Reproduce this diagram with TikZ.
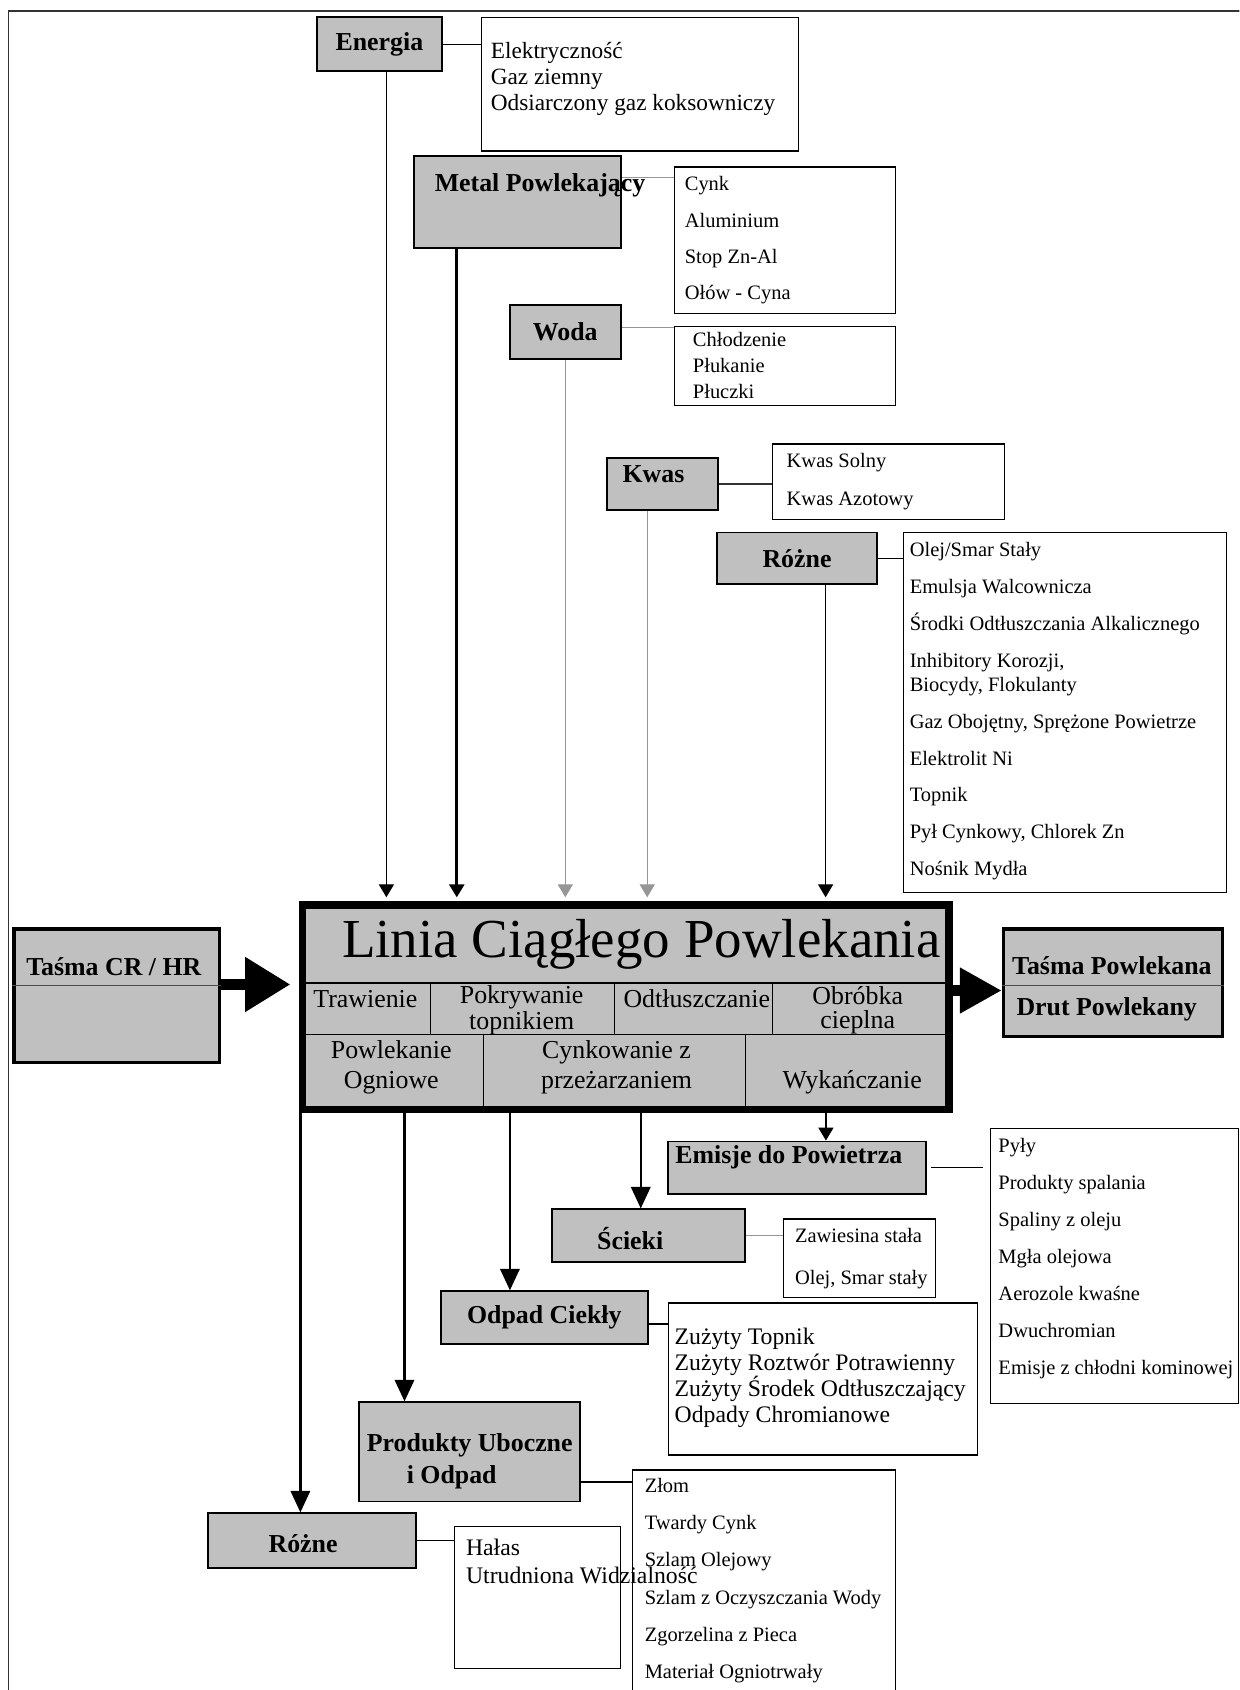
\documentclass[tikz,border=0pt]{standalone}
\usepackage{fontspec}
\setmainfont{Liberation Serif}
\usetikzlibrary{arrows.meta}
\definecolor{boxgrey}{RGB}{192,192,192}
\definecolor{linegrey}{RGB}{150,150,150}

\begin{document}
\begin{tikzpicture}[x=0.5pt, y=-0.5pt,
  greybox/.style={draw, fill=boxgrey, line width=0.8pt, inner sep=0pt, font=\bfseries\fontsize{12}{14}\selectfont},
  infobox/.style={draw, line width=0.6pt, inner sep=0pt},
  boxtext/.style={inner sep=0pt, font=\bfseries\fontsize{12}{14}\selectfont},
  listtext/.style={inner sep=0pt, anchor=west, align=left},
  celltext/.style={inner sep=0pt, align=center},
  tie/.style={line width=0.6pt},
  feedarrow/.style={-{Triangle[width=7pt,length=6pt]}, line width=0.6pt},
  outarrow/.style={-{Triangle[width=9pt,length=10pt]}, line width=1.1pt},
  bigarrow/.style={-{Triangle[width=24pt,length=21pt]}, line width=5.5pt},
]
\useasboundingbox (0,0) rectangle (1150,1568);
\clip (0,0) rectangle (1150,1568);

% frame of the page
\draw[line width=0.7pt, black!80] (8,1600) -- (8,10) -- (1200,10);

% inputs
\node[greybox, minimum width=58pt, minimum height=25pt] (energia) at (352,41) {Energia};
\node[infobox, minimum width=147pt, minimum height=62pt] (energiainfo) at (594,78) {};
\node[listtext, font=\fontsize{10.8}{12}\selectfont] (energialist) at (455,73.5) {Elektryczność\\Gaz ziemny\\Odsiarczony gaz koksowniczy};

\node[greybox, minimum width=96pt, minimum height=42.5pt] (metal) at (480,187.5) {};
\node[boxtext, anchor=west] (metaltext) at (403,172) {Metal Powlekający};
\node[infobox, minimum width=102.5pt, minimum height=68pt] (metalinfo) at (728.5,223) {};
\node[listtext, font=\fontsize{9.5}{16.9}\selectfont] (metallist) at (635,223) {Cynk\\Aluminium\\Stop Zn-Al\\Ołów - Cyna};

\node[greybox, minimum width=51.5pt, minimum height=25pt] (woda) at (524.5,308) {Woda};
\node[infobox, minimum width=102.5pt, minimum height=36.5pt] (wodainfo) at (728.5,339.5) {};
\node[listtext, font=\fontsize{9.5}{12.2}\selectfont] (wodalist) at (642.5,339) {Chłodzenie\\Płukanie\\Płuczki};

\node[greybox, minimum width=51.5pt, minimum height=24pt] (kwas) at (614.5,449) {};
\node[boxtext] (kwastext) at (606.3,440.3) {Kwas};
\node[infobox, minimum width=107.5pt, minimum height=35pt] (kwasinfo) at (824.5,447) {};
\node[listtext, font=\fontsize{9.5}{17.5}\selectfont] (kwaslist) at (729.5,446.6) {Kwas Solny\\Kwas Azotowy};

\node[greybox, minimum width=74.5pt, minimum height=24pt] (rozne) at (739.5,518) {Różne};
\node[infobox, minimum width=150pt, minimum height=167pt] (rozneinfo) at (988,661) {};
\node[listtext, font=\fontsize{9.5}{11.3}\selectfont] (roznelist) at (843.7,659.8) {Olej/Smar Stały\\[5.8pt]Emulsja Walcownicza\\[5.8pt]Środki Odtłuszczania Alkalicznego\\[5.8pt]Inhibitory Korozji,\\Biocydy, Flokulanty\\[5.8pt]Gaz Obojętny, Sprężone Powietrze\\[5.8pt]Elektrolit Ni\\[5.8pt]Topnik\\[5.8pt]Pył Cynkowy, Chlorek Zn\\[5.8pt]Nośnik Mydła};

% the line
\node[draw, fill=boxgrey, line width=3.5pt, minimum width=300pt, minimum height=95pt, inner sep=0pt] (linia) at (580.5,934.5) {};
\node[inner sep=0pt, font=\fontsize{25.5}{28}\selectfont] (liniatext) at (595,876) {Linia Ciągłego Powlekania};
\draw[line width=0.5pt] (280.5,912) -- (880.5,912) (280.5,960) -- (880.5,960)
  (399.7,912) -- (399.7,960) (569.9,912) -- (569.9,960) (716.5,912) -- (716.5,960)
  (448.9,960) -- (448.9,1029.5) (691.6,960) -- (691.6,1029.5);
\node[celltext, font=\fontsize{12}{10.9}\selectfont] (trawienie) at (339,926.6) {Trawienie};
\node[celltext, font=\fontsize{12}{10.9}\selectfont] (pokrywanie) at (484,937.5) {Pokrywanie\\topnikiem};
\node[celltext, font=\fontsize{12}{10.9}\selectfont] (odtluszczanie) at (646.5,926.6) {Odtłuszczanie};
\node[celltext, font=\fontsize{12}{10.9}\selectfont] (obrobka) at (795.8,937.5) {Obróbka\\cieplna};
\node[celltext, font=\fontsize{12}{14}\selectfont] (powlekanie) at (363,990) {Powlekanie\\Ogniowe};
\node[celltext, font=\fontsize{12}{14}\selectfont] (cynkowanie) at (572,990) {Cynkowanie z\\przeżarzaniem};
\node[celltext, font=\fontsize{12}{14}\selectfont] (wykanczanie) at (790.6,1004) {Wykańczanie};

% strip in and out
\node[draw, fill=boxgrey, line width=1.5pt, minimum width=95.5pt, minimum height=62pt] (tasmacr) at (108.5,924) {};
\node[boxtext] (tasmacrtext) at (105.6,896.6) {Taśma CR / HR};
\draw[line width=0.6pt, black!70] ([yshift=4.9pt]tasmacr.west) -- ([yshift=4.9pt]tasmacr.east);

\node[draw, fill=boxgrey, line width=1.5pt, minimum width=101.5pt, minimum height=50pt] (tasmapow) at (1032.5,912) {};
\draw[line width=0.6pt, black!70] ([yshift=-1.1pt]tasmapow.west) -- ([yshift=-1.1pt]tasmapow.east);
\node[boxtext] (tasmapowtext) at (1031.6,895.7) {Taśma Powlekana};
\node[boxtext] (druttext) at (1026.8,936) {Drut Powlekany};

% outputs
\node[greybox, minimum width=119.5pt, minimum height=24.5pt] (emisje) at (739.5,1083.5) {};
\node[boxtext] (emisjetext) at (731.9,1073.6) {Emisje do Powietrza};
\node[infobox, minimum width=115pt, minimum height=127.5pt] (emisjeinfo) at (1034,1174.5) {};
\node[listtext, font=\fontsize{9.5}{17.2}\selectfont] (emisjelist) at (926,1167.6) {Pyły\\Produkty spalania\\Spaliny z oleju\\Mgła olejowa\\Aerozole kwaśne\\Dwuchromian\\Emisje z chłodni kominowej};

\node[greybox, minimum width=89.5pt, minimum height=24.5pt] (scieki) at (601.5,1146.5) {};
\node[boxtext] (sciekitext) at (584.7,1149.4) {Ścieki};
\node[infobox, minimum width=70.5pt, minimum height=36.5pt] (sciekiinfo) at (797.5,1167.5) {};
\node[listtext, font=\fontsize{9.5}{19.8}\selectfont] (sciekilist) at (737.3,1167.6) {Zawiesina stała\\Olej, Smar stały};

\node[greybox, minimum width=96pt, minimum height=24.5pt] (odpad) at (505,1222.5) {Odpad Ciekły};
\node[infobox, minimum width=143.5pt, minimum height=70.5pt] (odpadinfo) at (763.5,1279.5) {};
\node[listtext, font=\fontsize{11}{12.1}\selectfont] (odpadlist) at (625.6,1278.5) {Zużyty Topnik\\Zużyty Roztwór Potrawienny\\Zużyty Środek Odtłuszczający\\Odpady Chromianowe};

\node[greybox, minimum width=102.5pt, minimum height=46pt] (produkty) at (435.5,1347) {};
\node[boxtext, align=left, anchor=west, font=\bfseries\fontsize{12}{15}\selectfont] (produktytext) at (340,1356) {Produkty Uboczne\\\hspace*{18.5pt}i Odpad};
\node[infobox, minimum width=122pt, minimum height=118pt] (produktyinfo) at (709,1482) {};
\node[listtext, font=\fontsize{9.5}{17.2}\selectfont] (produktylist) at (597.8,1466.5) {Złom\\Twardy Cynk\\Szlam Olejowy\\Szlam z Oczyszczania Wody\\Zgorzelina z Pieca\\Materiał Ogniotrwały};

\node[greybox, minimum width=96.5pt, minimum height=25.5pt] (rozne2) at (289.5,1429.5) {};
\node[boxtext] (rozne2text) at (281.2,1432.5) {Różne};
\node[infobox, minimum width=77pt, minimum height=66pt] (rozne2info) at (499,1482) {};
\node[listtext, font=\fontsize{11}{13}\selectfont] (rozne2list) at (432,1449) {Hałas\\Utrudniona Widzialność};

% ties to the lists
\draw[tie] (energia.east) -- (energia.east -| energiainfo.west);
\draw[tie, linegrey] ([yshift=-5pt]metalinfo.north west) -- ([yshift=-5pt]metalinfo.north west -| metal.east);
\draw[tie, linegrey] ([yshift=-0.75pt]wodainfo.north west) -- ([yshift=-0.75pt]wodainfo.north west -| woda.east);
\draw[tie, black!80] (kwas.east) -- (kwas.east -| kwasinfo.west);
\draw[tie] (rozne.east) -- (rozne.east -| rozneinfo.west);
\draw[tie, shorten <=2pt, shorten >=3pt] (emisje.east) -- (emisje.east -| emisjeinfo.west);
\draw[tie, linegrey] (scieki.east) -- (scieki.east -| sciekiinfo.west);
\draw[tie] ([yshift=-3pt]odpad.east) -- ([yshift=-3pt]odpad.east -| odpadinfo.west);
\draw[tie] ([yshift=-5.75pt]produktyinfo.north west) -- ([yshift=-5.75pt]produktyinfo.north west -| produkty.east);
\draw[tie] (rozne2.east) -- (rozne2.east -| rozne2info.west);

% feeds into the line
\draw[feedarrow, shorten >=1.75pt] ([xshift=3.25pt]energia.south) -- ([xshift=3.25pt]energia.south |- linia.north);
\draw[feedarrow, line width=1.2pt, shorten >=1.75pt] ([xshift=20.3pt]metal.south west) -- ([xshift=20.3pt]metal.south west |- linia.north);
\draw[feedarrow, linegrey, shorten >=1.75pt] (woda.south) -- (woda.south |- linia.north);
\draw[feedarrow, linegrey, shorten >=1.75pt] ([xshift=-7pt]kwas.south) -- ([xshift=-7pt]kwas.south |- linia.north);
\draw[feedarrow, shorten >=1.75pt] ([xshift=13.25pt]rozne.south) -- ([xshift=13.25pt]rozne.south |- linia.north);
\draw[bigarrow, shorten >=3.75pt] ([yshift=5.3pt]tasmacr.east) -- ([yshift=5.3pt]tasmacr.east -| linia.west);
\draw[bigarrow, -{Triangle[width=20pt,length=19.5pt]}] ([yshift=-3.5pt]tasmapow.west -| linia.east) -- ([yshift=-3.5pt]tasmapow.west);

% outflows from the line
\draw[outarrow] ([xshift=-5.4pt]rozne2.north |- linia.south) -- ([xshift=-5.4pt]rozne2.north);
\draw[outarrow] ([xshift=-30.1pt]produkty.north |- linia.south) -- ([xshift=-30.1pt]produkty.north);
\draw[outarrow] ([xshift=-15.95pt]odpad.north |- linia.south) -- ([xshift=-15.95pt]odpad.north);
\draw[outarrow] ([xshift=-3.5pt]scieki.north |- linia.south) -- ([xshift=-3.5pt]scieki.north);
\draw[feedarrow] ([xshift=13.4pt]emisje.north |- linia.south) -- ([xshift=13.4pt]emisje.north);
\end{tikzpicture}
\end{document}
